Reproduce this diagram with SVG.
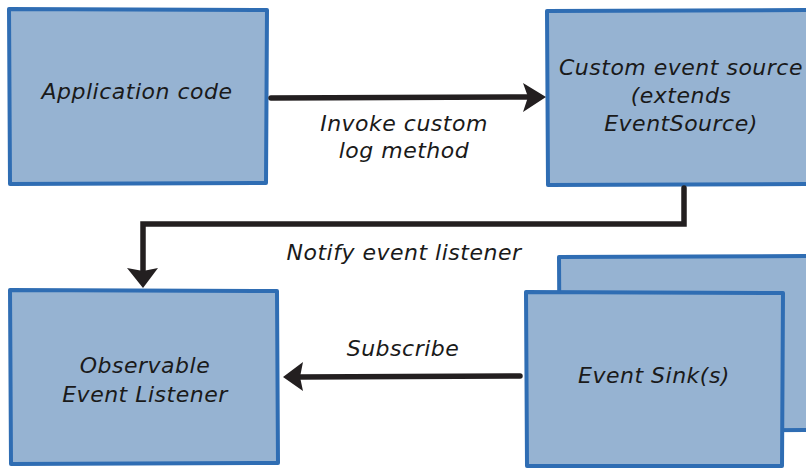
<svg xmlns="http://www.w3.org/2000/svg" width="806" height="468" viewBox="0 0 806 468">
<defs>
<style>
.box{fill:#96B3D2;stroke:#2F6DB3;stroke-width:4;stroke-linejoin:round}
.t{font-family:"DejaVu Sans","Open Sans",sans-serif;font-style:oblique;font-size:22px;letter-spacing:0.5px;fill:#1a1a1a;text-anchor:middle}
.ln{fill:none;stroke:#231f20;stroke-width:5.5;stroke-linecap:round;stroke-linejoin:miter}
.ah{fill:#231f20}
</style>
</defs>
<rect width="806" height="468" fill="#ffffff"/>
<g id="node-app">
<path class="box" d="M9,9 L267,10 L266,183 L10,184 Z"/>
<text class="t" x="137" y="99">Application code</text>
</g>
<g id="node-source">
<path class="box" d="M547,11 L816,10 L816,184 L548,185 Z"/>
<text class="t" x="681" y="75">Custom event source</text>
<text class="t" x="681" y="103">(extends</text>
<text class="t" x="681" y="131">EventSource)</text>
</g>
<g id="node-listener">
<path class="box" d="M10,290 L277,291 L278,463 L11,464 Z"/>
<text class="t" x="145" y="373">Observable</text>
<text class="t" x="145" y="402">Event Listener</text>
</g>
<g id="node-sinks">
<path class="box" d="M559,257 L816,256 L816,430 L560,431 Z"/>
<path class="box" d="M526,292 L783,293 L782,466 L527,466 Z"/>
<text class="t" x="654" y="383">Event Sink(s)</text>
</g>
<g id="connectors">
<path class="ln" d="M271,98 L530,97"/>
<path class="ah" d="M546,97 L523,83 L528,97 L523,112 Z"/>
<path class="ln" d="M684,188 L684,224 L143,224 L143,272"/>
<path class="ah" d="M143,288 L127,268 L143,271 L158,268 Z"/>
<path class="ln" d="M520,376 L300,377"/>
<path class="ah" d="M283,377 L303,362 L300,377 L303,391 Z"/>
<text class="t" x="404" y="131">Invoke custom</text>
<text class="t" x="404" y="158">log method</text>
<text class="t" x="404" y="260">Notify event listener</text>
<text class="t" x="403" y="356">Subscribe</text>
</g>
</svg>
